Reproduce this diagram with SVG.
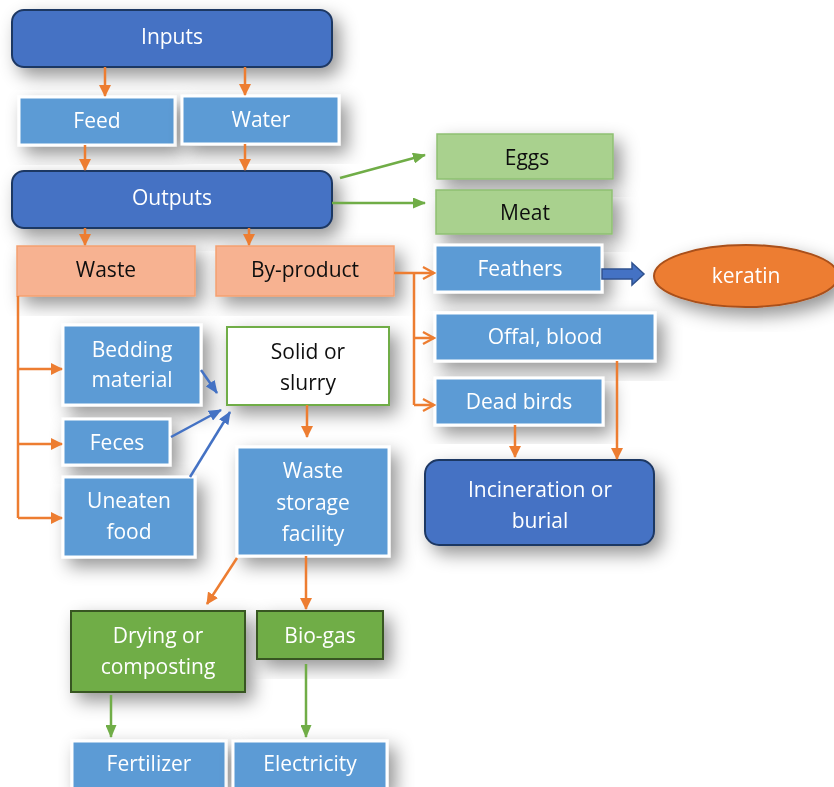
<svg xmlns="http://www.w3.org/2000/svg" width="834" height="787" viewBox="0 0 834 787">
<defs>
<filter id="sh" x="-40%" y="-40%" width="180%" height="180%">
<feDropShadow dx="7" dy="8" stdDeviation="9" flood-color="#000" flood-opacity="0.42"/>
</filter>
<marker id="ao" markerWidth="12" markerHeight="12" refX="11" refY="6" orient="auto" markerUnits="userSpaceOnUse">
<path d="M0,0 L12,6 L0,12 z" fill="#ED7D31"/>
</marker>
<marker id="aoo" markerWidth="14" markerHeight="14" refX="12" refY="7" orient="auto" markerUnits="userSpaceOnUse">
<path d="M1,1 L12,7 L1,13" fill="none" stroke="#ED7D31" stroke-width="2.2"/>
</marker>
<marker id="ag" markerWidth="13" markerHeight="11" refX="12" refY="5.5" orient="auto" markerUnits="userSpaceOnUse">
<path d="M0,0 L13,5.5 L0,11 z" fill="#70AD47"/>
</marker>
<marker id="ab" markerWidth="13" markerHeight="11" refX="12" refY="5.5" orient="auto" markerUnits="userSpaceOnUse">
<path d="M0,0 L13,5.5 L0,11 z" fill="#4472C4"/>
</marker>
</defs>
<style>
text{font-family:"Open Sans","Noto Sans","DejaVu Sans",sans-serif;font-size:21px;text-anchor:middle}
.w{fill:#fff}
.k{fill:#111}
.dk{fill:#4472C4;stroke:#1F3864;stroke-width:2}
.lb{fill:#5B9BD5;stroke:#fff;stroke-width:3}
.sal{fill:#F7B291;stroke:#F4A070;stroke-width:1.5}
.lg{fill:#A9D18E;stroke:#8FC072;stroke-width:1.5}
.dg{fill:#70AD47;stroke:#385723;stroke-width:2}
.wh{fill:#fff;stroke:#70AD47;stroke-width:2}
.sh{filter:url(#sh)}
.co{stroke:#ED7D31;stroke-width:2.5;fill:none}
.cg{stroke:#70AD47;stroke-width:2.5;fill:none}
.cb{stroke:#4472C4;stroke-width:2.5;fill:none}
</style>
<rect width="834" height="787" fill="#fff"/>

<g id="inputs" class="sh"><rect class="dk" x="12" y="10" width="320" height="57" rx="12"/><text class="w" x="172" y="44">Inputs</text></g>
<g id="feed" class="sh"><rect class="lb" x="19" y="97" width="156" height="48"/><text class="w" x="97" y="128">Feed</text></g>
<g id="water" class="sh"><rect class="lb" x="182" y="96" width="157" height="48"/><text class="w" x="261" y="127">Water</text></g>
<g id="outputs" class="sh"><rect class="dk" x="12" y="171" width="320" height="57" rx="12"/><text class="w" x="172" y="205">Outputs</text></g>
<g id="waste" class="sh"><rect class="sal" x="17" y="246" width="178" height="50"/><text class="k" x="106" y="277">Waste</text></g>
<g id="byproduct" class="sh"><rect class="sal" x="216" y="246" width="178" height="50"/><text class="k" x="305" y="277">By-product</text></g>
<g id="eggs" class="sh"><rect class="lg" x="437" y="134" width="176" height="45"/><text class="k" x="527" y="165">Eggs</text></g>
<g id="meat" class="sh"><rect class="lg" x="436" y="190" width="176" height="44"/><text class="k" x="525" y="220">Meat</text></g>
<g id="feathers" class="sh"><rect class="lb" x="435" y="245" width="167" height="47"/><text class="w" x="520" y="276">Feathers</text></g>
<g id="keratin" class="sh"><ellipse cx="746" cy="276" rx="92" ry="31" fill="#ED7D31" stroke="#A9501A" stroke-width="2"/><text class="w" x="746" y="283">keratin</text></g>
<g id="offal" class="sh"><rect class="lb" x="435" y="313" width="220" height="48"/><text class="w" x="545" y="344">Offal, blood</text></g>
<g id="deadbirds" class="sh"><rect class="lb" x="435" y="378" width="168" height="47"/><text class="w" x="519" y="409">Dead birds</text></g>
<g id="incineration" class="sh"><rect class="dk" x="425" y="460" width="229" height="85" rx="14"/><text class="w" x="540" y="497">Incineration or</text><text class="w" x="540" y="528">burial</text></g>
<g id="bedding" class="sh"><rect class="lb" x="63" y="325" width="138" height="80"/><text class="w" x="132" y="357">Bedding</text><text class="w" x="132" y="387">material</text></g>
<g id="solid" class="sh"><rect class="wh" x="227" y="327" width="162" height="78"/><text class="k" x="308" y="359">Solid or</text><text class="k" x="308" y="390">slurry</text></g>
<g id="feces" class="sh"><rect class="lb" x="63" y="419" width="107" height="46"/><text class="w" x="117" y="450">Feces</text></g>
<g id="uneaten" class="sh"><rect class="lb" x="63" y="477" width="132" height="80"/><text class="w" x="129" y="508">Uneaten</text><text class="w" x="129" y="539">food</text></g>
<g id="storage" class="sh"><rect class="lb" x="237" y="447" width="152" height="109"/><text class="w" x="313" y="478">Waste</text><text class="w" x="313" y="510">storage</text><text class="w" x="313" y="541">facility</text></g>
<g id="drying" class="sh"><rect class="dg" x="71" y="611" width="174" height="81"/><text class="w" x="158" y="643">Drying or</text><text class="w" x="158" y="674">composting</text></g>
<g id="biogas" class="sh"><rect class="dg" x="257" y="611" width="126" height="48"/><text class="w" x="320" y="643">Bio-gas</text></g>
<g id="fertilizer" class="sh"><rect class="lb" x="72" y="741" width="154" height="48"/><text class="w" x="149" y="771">Fertilizer</text></g>
<g id="electricity" class="sh"><rect class="lb" x="233" y="741" width="154" height="48"/><text class="w" x="310" y="771">Electricity</text></g>

<g id="connectors">
<line class="co" x1="105" y1="67" x2="105" y2="96" marker-end="url(#ao)"/>
<line class="co" x1="245" y1="67" x2="245" y2="95" marker-end="url(#ao)"/>
<line class="co" x1="85" y1="145" x2="85" y2="170" marker-end="url(#ao)"/>
<line class="co" x1="245" y1="144" x2="245" y2="170" marker-end="url(#ao)"/>
<line class="co" x1="85" y1="228" x2="85" y2="245" marker-end="url(#ao)"/>
<line class="co" x1="249" y1="228" x2="249" y2="245" marker-end="url(#ao)"/>
<line class="cg" x1="340" y1="178" x2="425" y2="155" marker-end="url(#ag)"/>
<line class="cg" x1="332" y1="203" x2="425" y2="203" marker-end="url(#ag)"/>
<polyline class="co" points="18,296 18,518"/>
<line class="co" x1="18" y1="369" x2="62" y2="369" marker-end="url(#ao)"/>
<line class="co" x1="18" y1="444" x2="62" y2="444" marker-end="url(#ao)"/>
<line class="co" x1="18" y1="518" x2="62" y2="518" marker-end="url(#ao)"/>
<line class="co" x1="394" y1="273" x2="434" y2="273" marker-end="url(#aoo)"/>
<polyline class="co" points="414,273 414,405"/>
<line class="co" x1="414" y1="338" x2="434" y2="338" marker-end="url(#aoo)"/>
<line class="co" x1="414" y1="405" x2="434" y2="405" marker-end="url(#aoo)"/>
<path d="M602,269 H632 V263 L644,274 L632,285 V279 H602 z" fill="#4472C4" stroke="#2F528F" stroke-width="1.5"/>
<line class="cb" x1="201" y1="370" x2="217" y2="393" marker-end="url(#ab)"/>
<line class="cb" x1="171" y1="437" x2="221" y2="410" marker-end="url(#ab)"/>
<line class="cb" x1="190" y1="477" x2="230" y2="412" marker-end="url(#ab)"/>
<line class="co" x1="307" y1="405" x2="307" y2="437" marker-end="url(#ao)"/>
<line class="co" x1="237" y1="558" x2="207" y2="604" marker-end="url(#ao)"/>
<line class="co" x1="306" y1="556" x2="306" y2="609" marker-end="url(#ao)"/>
<line class="cg" x1="111" y1="695" x2="111" y2="737" marker-end="url(#ag)"/>
<line class="cg" x1="306" y1="664" x2="306" y2="737" marker-end="url(#ag)"/>
<line class="co" x1="617" y1="361" x2="617" y2="459" marker-end="url(#ao)"/>
<line class="co" x1="515" y1="425" x2="515" y2="457" marker-end="url(#ao)"/>
</g>
</svg>
